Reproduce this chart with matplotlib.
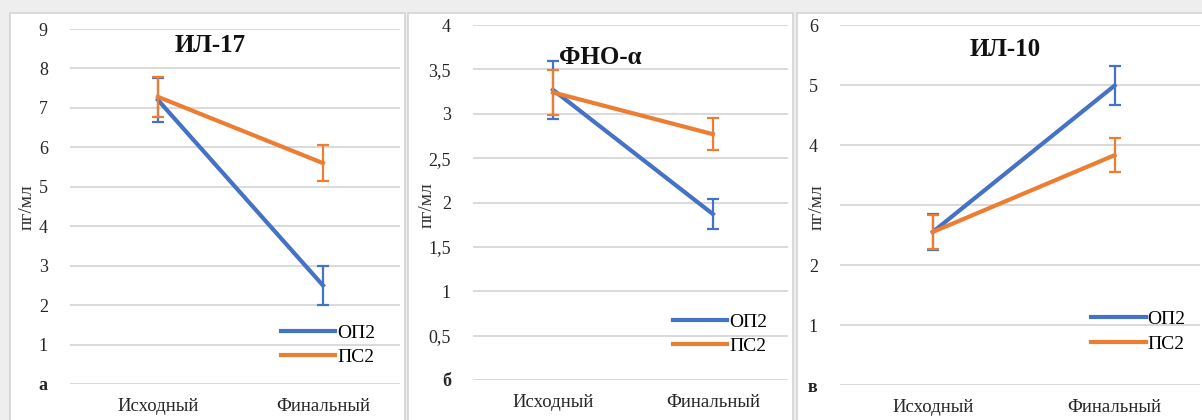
import matplotlib
matplotlib.use("Agg")
import matplotlib.pyplot as plt
from matplotlib.patches import Rectangle

categories = ['Исходный', 'Финальный']
series_names = ['ОП2', 'ПС2']

il17_op2 = [7.2, 2.5]
il17_op2_err = [0.55, 0.5]
il17_ps2 = [7.28, 5.6]
il17_ps2_err = [0.5, 0.45]

tnf_op2 = [3.27, 1.87]
tnf_op2_err = [0.33, 0.17]
tnf_ps2 = [3.24, 2.77]
tnf_ps2_err = [0.25, 0.18]

il10_op2 = [2.55, 4.99]
il10_op2_err = [0.3, 0.32]
il10_ps2 = [2.55, 3.83]
il10_ps2_err = [0.28, 0.28]

titles = ['ИЛ-17', 'ФНО-α', 'ИЛ-10']
ylabel = 'пг/мл'
il17_ticks = [0, 1, 2, 3, 4, 5, 6, 7, 8, 9]
il17_ticklabels = ['а', '1', '2', '3', '4', '5', '6', '7', '8', '9']
tnf_ticks = [0, 0.5, 1, 1.5, 2, 2.5, 3, 3.5, 4]
tnf_ticklabels = ['б', '0,5', '1', '1,5', '2', '2,5', '3', '3,5', '4']
il10_ticks = [0, 1, 2, 3, 4, 5, 6]
il10_ticklabels = ['в', '1', '2', '', '4', '5', '6']

BLUE = '#4472C4'
ORANGE = '#ED7D31'
SERIF = ['Liberation Serif', 'DejaVu Serif']

W, H = 1202, 420
fig = plt.figure(figsize=(W / 100, H / 100), dpi=100)
fig.patch.set_facecolor('#eeeeee')

# panel frames (figure pixel coords)
for (x0, x1) in [(10, 405), (408, 793), (797, 1210)]:
    fig.add_artist(Rectangle((x0 / W, -0.05), (x1 - x0) / W, (H - 13) / H + 0.05,
                             transform=fig.transFigure, facecolor='white',
                             edgecolor='#d4d4d4', linewidth=1.2, zorder=0))

panels = [
    dict(px=(70, 400), py=(384, 29), xlim=(-0.533, 1.467), ylim=(0, 9),
         ticks=il17_ticks, labels=il17_ticklabels,
         op2=il17_op2, op2e=il17_op2_err, ps2=il17_ps2, ps2e=il17_ps2_err,
         title_xy=(210, 45), ylab_xy=(27, 207), leg=(0.925, 0.05)),
    dict(px=(473, 788), py=(380, 25), xlim=(-0.5, 1.47), ylim=(0, 4),
         ticks=tnf_ticks, labels=tnf_ticklabels,
         op2=tnf_op2, op2e=tnf_op2_err, ps2=tnf_ps2, ps2e=tnf_ps2_err,
         title_xy=(600, 57), ylab_xy=(427, 205), leg=(0.935, 0.07)),
    dict(px=(840, 1200), py=(385, 25), xlim=(-0.51, 1.47), ylim=(0, 6),
         ticks=il10_ticks, labels=il10_ticklabels,
         op2=il10_op2, op2e=il10_op2_err, ps2=il10_ps2, ps2e=il10_ps2_err,
         title_xy=(1005, 50), ylab_xy=(817, 207), leg=(0.96, 0.09)),
]

x = list(range(len(categories)))
for i, p in enumerate(panels):
    l = p['px'][0] / W
    w = (p['px'][1] - p['px'][0]) / W
    b = (H - p['py'][0]) / H
    h = (p['py'][0] - p['py'][1]) / H
    ax = fig.add_axes([l, b, w, h])
    ax.set_facecolor('none')
    ax.set_xlim(*p['xlim'])
    ax.set_ylim(*p['ylim'])
    for s in ax.spines.values():
        s.set_visible(False)
    ax.set_yticks(p['ticks'])
    ax.set_yticklabels(p['labels'], fontfamily=SERIF, fontsize=13, color='#262626')
    ax.yaxis.get_majorticklabels()[0].set_fontweight('bold')
    ax.set_xticks(x)
    ax.set_xticklabels(categories, fontfamily=SERIF, fontsize=13.5, color='#262626')
    ax.tick_params(axis='y', length=0, pad=16)
    ax.tick_params(axis='x', length=0, pad=10)
    ax.grid(axis='y', color='#d9d9d9', linewidth=1.4)
    ax.set_axisbelow(True)

    ax.errorbar(x, p['op2'], yerr=p['op2e'], color=BLUE, linewidth=3,
                elinewidth=1.6, capsize=4, capthick=1.6, label=series_names[0],
                zorder=3)
    ax.errorbar(x, p['ps2'], yerr=p['ps2e'], color=ORANGE, linewidth=3,
                elinewidth=1.6, capsize=4, capthick=1.6, label=series_names[1],
                zorder=4)

    handles, labs = ax.get_legend_handles_labels()
    hl = [h_[0] for h_ in handles]
    ax.legend(hl, labs, loc='lower right', bbox_to_anchor=p['leg'], frameon=False,
              prop={'family': SERIF, 'size': 14}, handlelength=2.8,
              handletextpad=0.1, labelspacing=0.35, borderaxespad=0,
              borderpad=0)

    tx, ty = p['title_xy']
    fig.text(tx / W, 1 - ty / H, titles[i], ha='center', va='center',
             fontfamily=SERIF, fontsize=18, fontweight='bold', color='#111111')
    yx, yy = p['ylab_xy']
    fig.text(yx / W, 1 - yy / H, ylabel, ha='center', va='center', rotation=90,
             fontfamily=SERIF, fontsize=14, color='#333333')

fig.savefig('out.png', dpi=100, facecolor=fig.get_facecolor())
